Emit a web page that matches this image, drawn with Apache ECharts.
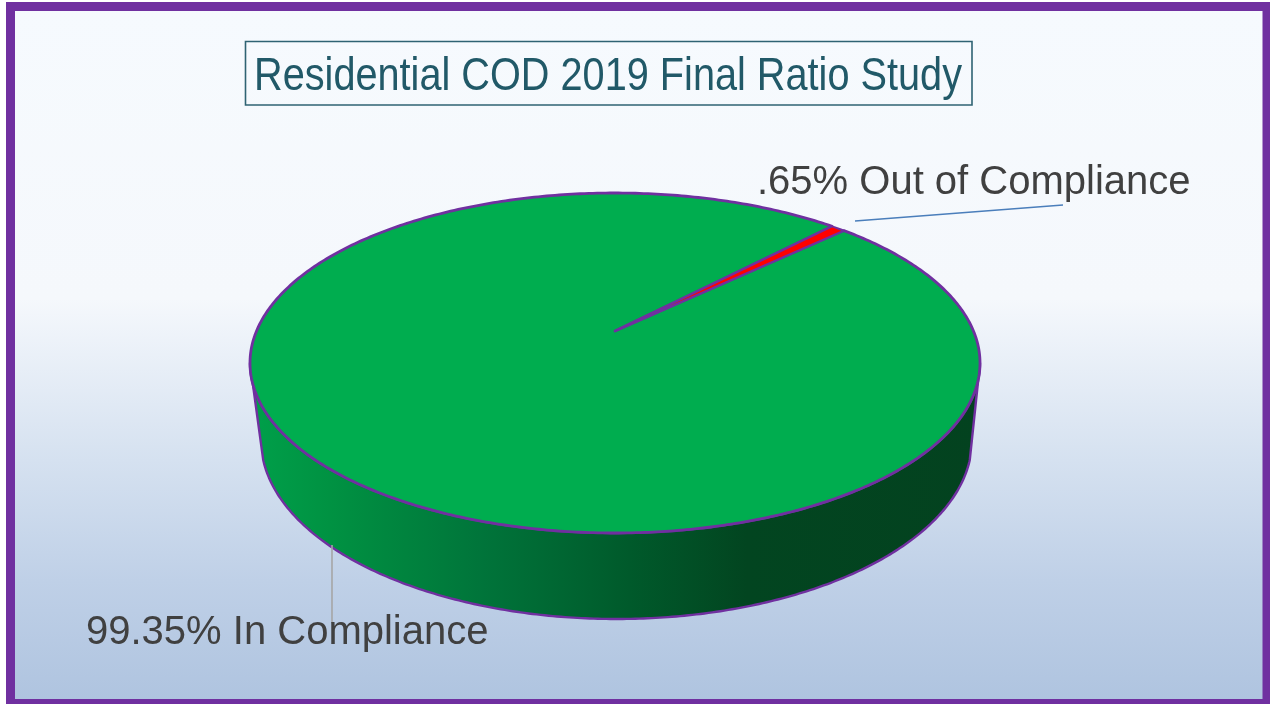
<!DOCTYPE html>
<html><head><meta charset="utf-8">
<style>html,body{margin:0;padding:0;background:#fff}#c{width:1270px;height:704px}</style>
<script src="https://cdn.jsdelivr.net/npm/echarts@6/dist/echarts.min.js"></script>
</head><body><div id="c"></div>
<script>
const titleText = 'Residential COD 2019 Final Ratio Study';
const categories = ['In Compliance', 'Out of Compliance'];
const shares = [99.35, 0.65];
const labels = ['99.35% In Compliance', '.65% Out of Compliance'];
const sliceColors = ['#00ad4f', '#ff0000'];

const top3d = {cx: 615, cy: 363, rx: 365, ry: 170, apexX: 615, apexY: 331};
const low3d = {cx: 616.5, cy: 440, rx: 355.5, ry: 179};
const rimStartDeg = 36.5; // clockwise from 12 o'clock, where the red slice begins
const EDGE = '#7030a0';

function rim(e, deg) {
  const t = deg * Math.PI / 180;
  return [e.cx + e.rx * Math.sin(t), e.cy - e.ry * Math.cos(t)];
}
function arc(e, a, b) {
  const n = Math.max(4, Math.ceil(Math.abs(b - a) * 1.5));
  const pts = [];
  for (let i = 0; i <= n; i++) pts.push(rim(e, a + (b - a) * i / n));
  return pts;
}
const sideFill = new echarts.graphic.LinearGradient(0, 0, 1, 0, [
  {offset: 0, color: '#00a04a'},
  {offset: 0.11, color: '#009242'},
  {offset: 0.32, color: '#00743a'},
  {offset: 0.52, color: '#005a2b'},
  {offset: 0.68, color: '#024520'},
  {offset: 1, color: '#03421f'}
]);
const leaderSpec = [
  {pts: [[332, 545], [332, 622]], color: '#a6a6a6'},
  {pts: [[855, 221], [1063, 205]], color: '#4a7ebb'}
];
const labelSpec = [{x: 86, y: 633}, {x: 757, y: 183}];

function renderPie(params, api) {
  const i = params.dataIndex;
  const v = api.value(1);
  const total = shares.reduce((a, b) => a + b, 0);
  const sweep = v / total * 360;
  // out-of-compliance slice starts at rimStartDeg; in-compliance follows it
  const start = i === 1 ? rimStartDeg : rimStartDeg + shares[1] / total * 360;
  const children = [];
  if (i === 0) {
    const sidePts = arc(top3d, 90, 270).concat(arc(low3d, 263.6, 96.4));
    children.push({type: 'polygon', shape: {points: sidePts},
      style: {fill: sideFill, stroke: EDGE, lineWidth: 2.4, lineJoin: 'round'}});
  }
  const pts = [[top3d.apexX, top3d.apexY]].concat(arc(top3d, start, start + sweep));
  children.push({type: 'polygon', shape: {points: pts},
    style: {fill: sliceColors[i], stroke: EDGE, lineWidth: i === 1 ? 2 : 2.8, lineJoin: 'round'}});
  const leader = leaderSpec[i];
  children.push({type: 'polyline', shape: {points: leader.pts},
    style: {fill: null, stroke: leader.color, lineWidth: 1.6}});
  children.push({type: 'text', style: {x: labelSpec[i].x, y: labelSpec[i].y, text: labels[i],
    fill: '#404040', font: '40px "Liberation Sans"', textAlign: 'left', textVerticalAlign: 'middle'}});
  return {type: 'group', children};
}

const titleFont = '46px "Liberation Sans"';
const ctx = document.createElement('canvas').getContext('2d');
ctx.font = titleFont;
const titleScale = 708 / ctx.measureText(titleText).width;

const chart = echarts.init(document.getElementById('c'), null, {renderer: 'canvas'});
chart.setOption({
  animation: false,
  backgroundColor: '#ffffff',
  graphic: [{
    type: 'rect', z: -10, silent: true,
    shape: {x: 10.5, y: 6.5, width: 1256.5, height: 697},
    style: {
      stroke: EDGE, lineWidth: 9,
      fill: new echarts.graphic.LinearGradient(0, 0, 0, 1, [
        {offset: 0, color: '#f6fafe'},
        {offset: 0.42, color: '#f5f8fc'},
        {offset: 0.65, color: '#d5e1f0'},
        {offset: 0.82, color: '#bfd0e7'},
        {offset: 1, color: '#aec3df'}
      ])
    }
  }, {
    type: 'rect', silent: true, z: 5,
    shape: {x: 245.5, y: 41.5, width: 726.5, height: 63.5},
    style: {fill: 'transparent', stroke: '#2f6373', lineWidth: 1.6}
  }, {
    type: 'text', silent: true, z: 6,
    x: 254, y: 77, scaleX: titleScale, scaleY: 1,
    style: {text: titleText, font: titleFont, fill: '#215968', textAlign: 'left', textVerticalAlign: 'middle'}
  }],
  series: [{
    type: 'custom', coordinateSystem: 'none', silent: true,
    renderItem: renderPie,
    data: categories.map((c, i) => [c, shares[i]])
  }]
});
</script></body></html>
